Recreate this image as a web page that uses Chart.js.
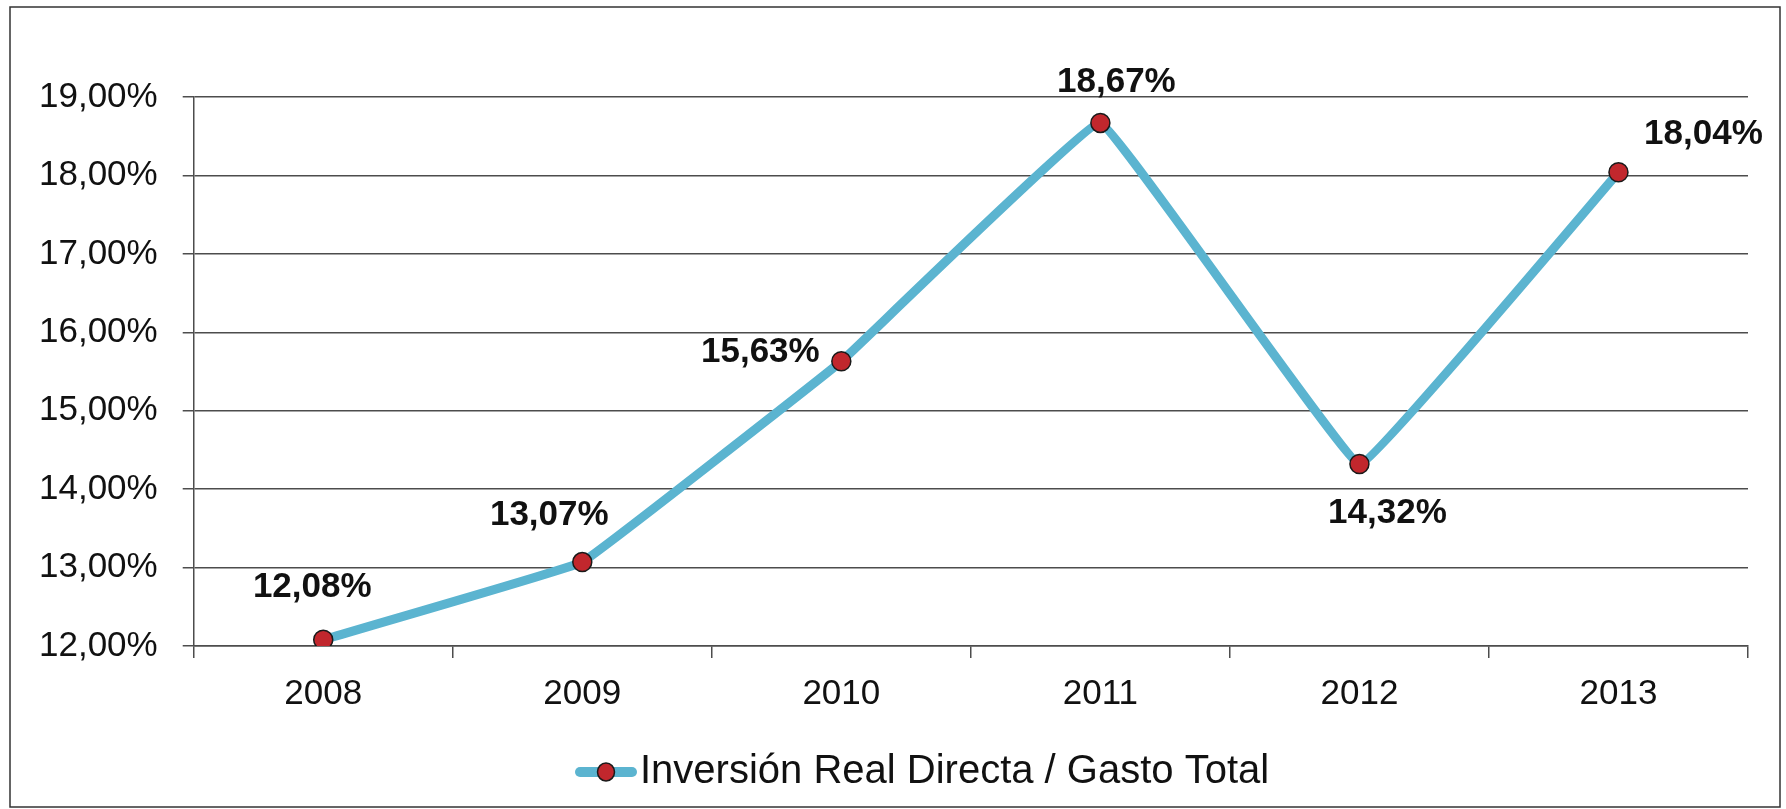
<!DOCTYPE html>
<html>
<head>
<meta charset="utf-8">
<script src="https://cdn.jsdelivr.net/npm/chart.js@4"></script>
<style>
html,body{margin:0;padding:0;background:#fff;}
canvas{display:block;}
</style>
</head>
<body>
<canvas id="c" width="1786" height="809"></canvas>
<script>
// ---- data ----
const categories = ['2008', '2009', '2010', '2011', '2012', '2013'];
const seriesName = 'Inversión Real Directa / Gasto Total';
const seriesValues = [12.08, 13.07, 15.63, 18.67, 14.32, 18.04];
const valueLabels = ['12,08%', '13,07%', '15,63%', '18,67%', '14,32%', '18,04%'];
const yTickValues = [12, 13, 14, 15, 16, 17, 18, 19];
const yTickLabels = ['12,00%', '13,00%', '14,00%', '15,00%', '16,00%', '17,00%', '18,00%', '19,00%'];

// ---- styles ----
const FONT = "'Liberation Sans', Arial, sans-serif";
const LINE_COLOR = '#5BB4D0';
const MARKER_FILL = '#C1272D';
const MARKER_BORDER = '#1a1a1a';
const GRID_COLOR = '#4d4d4d';
const TEXT_COLOR = '#111';
// label offsets (dx, dy) from each point, in px
const labelOffsets = [[-11, -52], [-33, -47], [-81, -9], [16, -41], [28, 49], [85, -38]];

function makeLegendMarker() {
  const c = document.createElement('canvas');
  c.width = 84; c.height = 24;
  const g = c.getContext('2d');
  g.strokeStyle = LINE_COLOR;
  g.lineWidth = 10;
  g.lineCap = 'round';
  g.beginPath(); g.moveTo(27, 12); g.lineTo(79, 12); g.stroke();
  g.fillStyle = MARKER_FILL;
  g.strokeStyle = MARKER_BORDER;
  g.lineWidth = 1.5;
  g.beginPath(); g.ellipse(53, 12, 8.5, 9, 0, 0, Math.PI * 2); g.fill(); g.stroke();
  return c;
}
const legendMarker = makeLegendMarker();

const framePlugin = {
  id: 'frame',
  beforeDraw(chart) {
    const ctx = chart.ctx;
    ctx.save();
    ctx.fillStyle = '#fff';
    ctx.fillRect(0, 0, chart.width, chart.height);
    ctx.strokeStyle = '#333';
    ctx.lineWidth = 1.5;
    ctx.strokeRect(10, 7, 1770, 800);
    ctx.restore();
  },
  afterLayout(chart) {
    const lg = chart.legend;
    if (!lg || !lg.lineWidths) return;
    const pad = lg.options.labels.padding;
    const cur = (lg.left + pad + lg.right - lg.lineWidths[0]) / 2;
    const d = 570 - cur;
    lg.left += d; lg.right += d;
  }
};

const valueLabelPlugin = {
  id: 'valueLabels',
  afterDatasetsDraw(chart) {
    const ctx = chart.ctx;
    const meta = chart.getDatasetMeta(0);
    ctx.save();
    ctx.font = 'bold 35px ' + FONT;
    ctx.fillStyle = TEXT_COLOR;
    ctx.textAlign = 'center';
    ctx.textBaseline = 'middle';
    meta.data.forEach((el, i) => {
      const [dx, dy] = labelOffsets[i];
      ctx.fillText(valueLabels[i], el.x + dx, el.y + dy);
    });
    ctx.restore();
  }
};

new Chart(document.getElementById('c'), {
  type: 'line',
  data: {
    labels: categories,
    datasets: [{
      label: seriesName,
      data: seriesValues,
      borderColor: LINE_COLOR,
      borderWidth: 9,
      borderCapStyle: 'round',
      borderJoinStyle: 'round',
      tension: 0.05,
      fill: false,
      pointRadius: 9.5,
      pointHoverRadius: 9.5,
      pointBackgroundColor: MARKER_FILL,
      pointBorderColor: MARKER_BORDER,
      pointBorderWidth: 1.5
    }]
  },
  options: {
    responsive: false,
    animation: false,
    events: [],
    layout: { padding: { left: 14, right: 38, top: 97, bottom: 7 } },
    scales: {
      x: {
        offset: true,
        grid: { offset: true, drawOnChartArea: false, drawTicks: true, tickLength: 12, color: GRID_COLOR, lineWidth: 1.5 },
        border: { color: GRID_COLOR, width: 1.5 },
        ticks: { font: { size: 35, family: FONT }, color: TEXT_COLOR, padding: 15, maxRotation: 0 }
      },
      y: {
        min: 12,
        max: 19,
        afterBuildTicks(scale) { scale.ticks = yTickValues.map(v => ({ value: v })); },
        grid: { color: GRID_COLOR, lineWidth: 1.5, tickLength: 11, drawTicks: true },
        border: { color: GRID_COLOR, width: 1.5 },
        ticks: {
          font: { size: 35, family: FONT },
          color: TEXT_COLOR,
          padding: 25,
          callback: (v) => yTickLabels[yTickValues.indexOf(v)]
        }
      }
    },
    plugins: {
      title: { display: false },
      tooltip: { enabled: false },
      legend: {
        position: 'bottom',
        labels: {
          usePointStyle: true,
          pointStyleWidth: 50,
          padding: 22,
          color: TEXT_COLOR,
          font: { size: 40, family: FONT },
          generateLabels: (chart) => [{
            text: seriesName,
            pointStyle: legendMarker,
            fillStyle: MARKER_FILL,
            strokeStyle: MARKER_BORDER,
            lineWidth: 0,
            hidden: false,
            datasetIndex: 0,
            fontColor: TEXT_COLOR
          }]
        }
      }
    }
  },
  plugins: [framePlugin, valueLabelPlugin]
});
</script>
</body>
</html>
